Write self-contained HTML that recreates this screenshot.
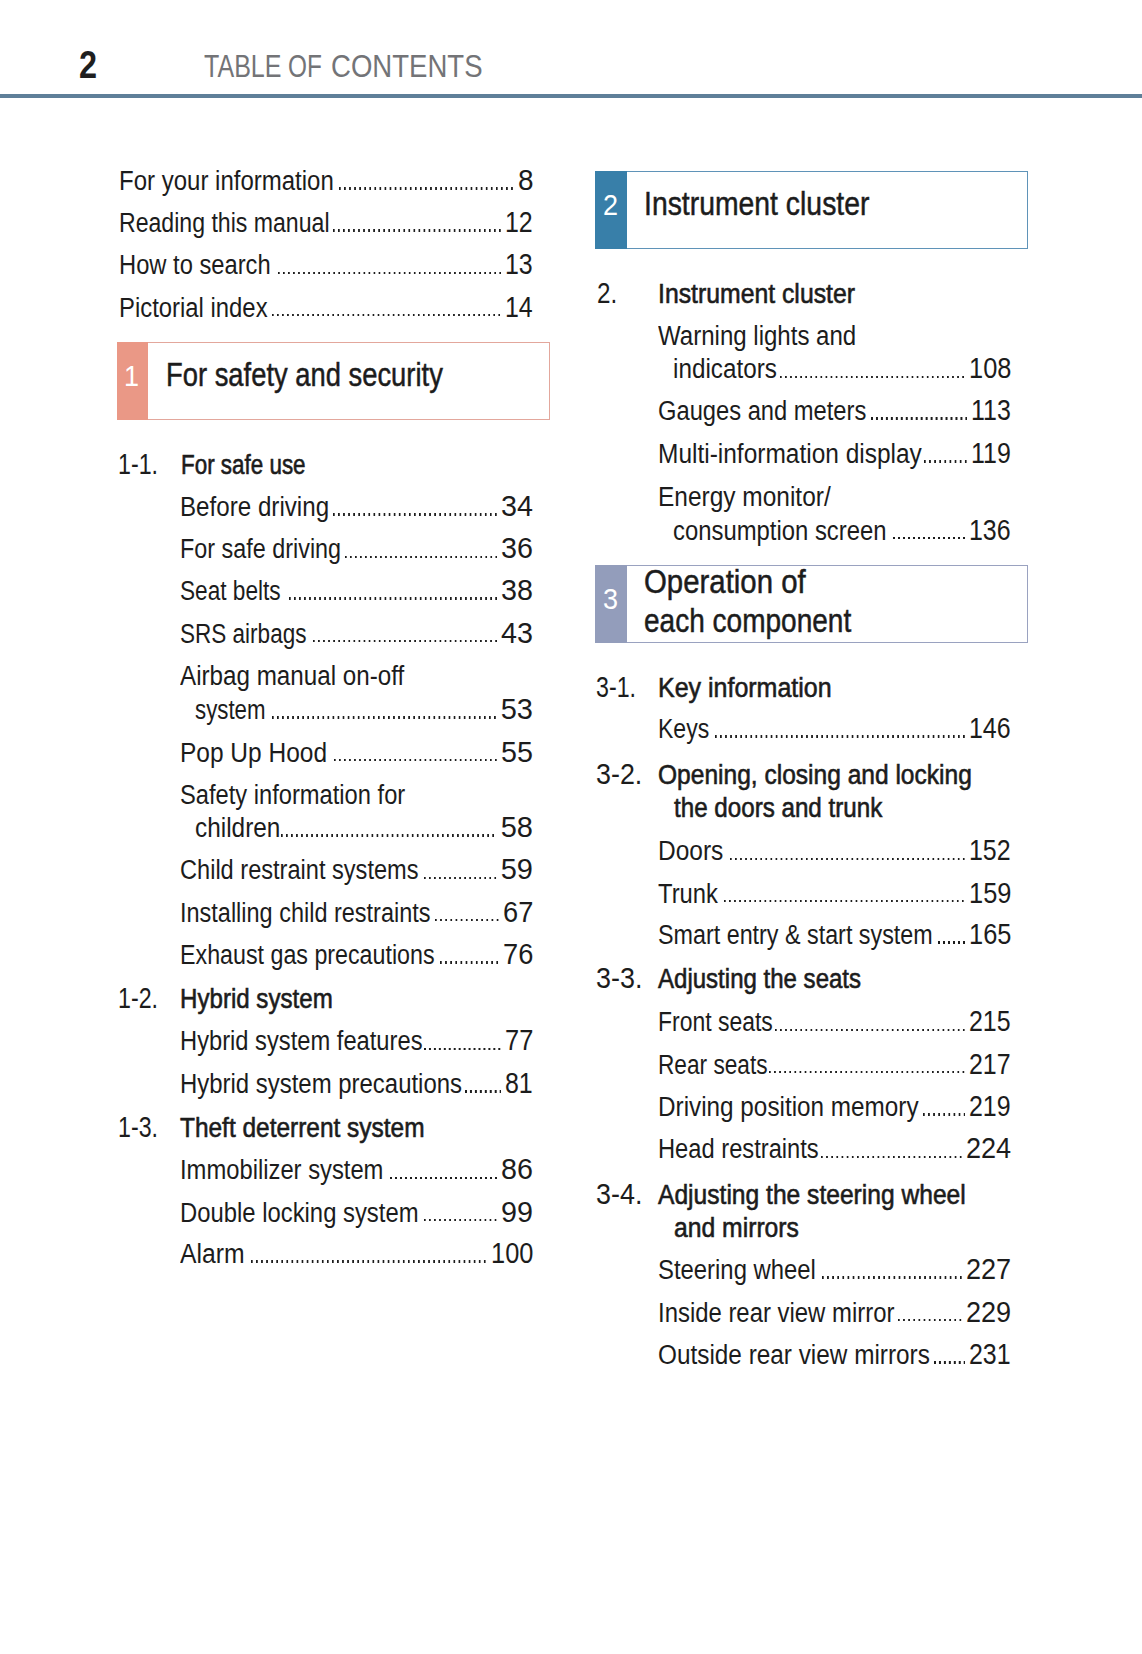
<!DOCTYPE html>
<html><head><meta charset="utf-8"><title>Table of contents</title>
<style>
html,body{margin:0;padding:0;background:#fff}
body{width:1142px;height:1654px;position:relative;overflow:hidden;font-family:"Liberation Sans",sans-serif;color:#1c1c1c}
.t{position:absolute;white-space:nowrap;transform-origin:0 0;line-height:40px}
.h{-webkit-text-stroke:0.6px #1c1c1c}
.bx{-webkit-text-stroke:0.5px #1c1c1c}
.d{position:absolute;height:2.6px;background-image:linear-gradient(to right,#1c1c1c 0,#1c1c1c 2px,transparent 2px);background-size:5.07px 2.6px;background-repeat:repeat-x;background-position:left 0 top 0}
.box{position:absolute;box-sizing:border-box;border:1px solid}
.blk{position:absolute}
.num{color:#fff}
.hdr2{font-weight:bold;color:#1f1f1f}
.hdrt{color:#737477}
.rule{position:absolute;left:0;top:93.5px;width:1142px;height:4px;background:#5f7f99}
</style></head><body>
<div class="rule"></div>
<div class="t" style="left:118.50px;top:161px;font-size:27px;transform:scaleX(0.8891);">For your information</div>
<div class="t" style="left:517.50px;top:160px;font-size:29px;transform:scaleX(0.9627);">8</div>
<div class="d" style="left:338.90px;top:187.2px;width:174.60px;background-size:5.076px 2.6px"></div>
<div class="t" style="left:118.50px;top:203px;font-size:27px;transform:scaleX(0.8553);">Reading this manual</div>
<div class="t" style="left:505.22px;top:202px;font-size:29px;transform:scaleX(0.8600);">12</div>
<div class="d" style="left:333.00px;top:229.2px;width:168.22px;background-size:5.037px 2.6px"></div>
<div class="t" style="left:118.50px;top:245px;font-size:27px;transform:scaleX(0.8789);">How to search</div>
<div class="t" style="left:505.22px;top:244px;font-size:29px;transform:scaleX(0.8600);">13</div>
<div class="d" style="left:277.60px;top:271.7px;width:223.62px;background-size:5.037px 2.6px"></div>
<div class="t" style="left:118.50px;top:288px;font-size:27px;transform:scaleX(0.8840);">Pictorial index</div>
<div class="t" style="left:505.22px;top:287px;font-size:29px;transform:scaleX(0.8600);">14</div>
<div class="d" style="left:272.30px;top:313.8px;width:228.92px;background-size:5.043px 2.6px"></div>
<div class="t" style="left:179.70px;top:487px;font-size:27px;transform:scaleX(0.8950);">Before driving</div>
<div class="t" style="left:501.00px;top:486px;font-size:29px;transform:scaleX(0.9907);">34</div>
<div class="d" style="left:332.80px;top:513.2px;width:164.20px;background-size:5.069px 2.6px"></div>
<div class="t" style="left:179.70px;top:529px;font-size:27px;transform:scaleX(0.8657);">For safe driving</div>
<div class="t" style="left:501.00px;top:528px;font-size:29px;transform:scaleX(0.9907);">36</div>
<div class="d" style="left:344.50px;top:555.7px;width:152.50px;background-size:5.017px 2.6px"></div>
<div class="t" style="left:179.70px;top:571px;font-size:27px;transform:scaleX(0.8385);">Seat belts</div>
<div class="t" style="left:501.00px;top:570px;font-size:29px;transform:scaleX(0.9907);">38</div>
<div class="d" style="left:288.50px;top:597.4px;width:208.50px;background-size:5.037px 2.6px"></div>
<div class="t" style="left:179.70px;top:614px;font-size:27px;transform:scaleX(0.8344);">SRS airbags</div>
<div class="t" style="left:501.00px;top:613px;font-size:29px;transform:scaleX(0.9907);">43</div>
<div class="d" style="left:312.60px;top:639.8px;width:184.40px;background-size:5.067px 2.6px"></div>
<div class="t" style="left:179.70px;top:656px;font-size:27px;transform:scaleX(0.8961);">Airbag manual on-off</div>
<div class="t" style="left:194.60px;top:690px;font-size:27px;transform:scaleX(0.8246);">system</div>
<div class="t" style="left:500.70px;top:689px;font-size:29px;transform:scaleX(1.0000);">53</div>
<div class="d" style="left:272.40px;top:716.2px;width:224.30px;background-size:5.052px 2.6px"></div>
<div class="t" style="left:179.70px;top:733px;font-size:27px;transform:scaleX(0.9068);">Pop Up Hood</div>
<div class="t" style="left:501.00px;top:732px;font-size:29px;transform:scaleX(0.9907);">55</div>
<div class="d" style="left:333.60px;top:758.9px;width:163.40px;background-size:5.044px 2.6px"></div>
<div class="t" style="left:179.70px;top:775px;font-size:27px;transform:scaleX(0.8776);">Safety information for</div>
<div class="t" style="left:194.60px;top:808px;font-size:27px;transform:scaleX(0.9027);">children</div>
<div class="t" style="left:500.70px;top:807px;font-size:29px;transform:scaleX(1.0000);">58</div>
<div class="d" style="left:281.20px;top:834.2px;width:213.50px;background-size:5.036px 2.6px"></div>
<div class="t" style="left:179.70px;top:850px;font-size:27px;transform:scaleX(0.8733);">Child restraint systems</div>
<div class="t" style="left:500.70px;top:849px;font-size:29px;transform:scaleX(1.0000);">59</div>
<div class="d" style="left:424.20px;top:876.5px;width:72.50px;background-size:5.036px 2.6px"></div>
<div class="t" style="left:179.70px;top:893px;font-size:27px;transform:scaleX(0.8695);">Installing child restraints</div>
<div class="t" style="left:502.70px;top:892px;font-size:29px;transform:scaleX(0.9381);">67</div>
<div class="d" style="left:435.00px;top:918.8px;width:63.70px;background-size:5.142px 2.6px"></div>
<div class="t" style="left:179.70px;top:935px;font-size:27px;transform:scaleX(0.8610);">Exhaust gas precautions</div>
<div class="t" style="left:502.70px;top:934px;font-size:29px;transform:scaleX(0.9381);">76</div>
<div class="d" style="left:440.30px;top:961.1px;width:58.40px;background-size:5.127px 2.6px"></div>
<div class="t" style="left:179.70px;top:1021px;font-size:27px;transform:scaleX(0.8783);">Hybrid system features</div>
<div class="t" style="left:504.70px;top:1020px;font-size:29px;transform:scaleX(0.8762);">77</div>
<div class="d" style="left:424.20px;top:1047.7px;width:76.50px;background-size:4.967px 2.6px"></div>
<div class="t" style="left:179.70px;top:1064px;font-size:27px;transform:scaleX(0.8865);">Hybrid system precautions</div>
<div class="t" style="left:505.22px;top:1063px;font-size:29px;transform:scaleX(0.8600);">81</div>
<div class="d" style="left:464.50px;top:1090.0px;width:36.72px;background-size:4.960px 2.6px"></div>
<div class="t" style="left:179.70px;top:1150px;font-size:27px;transform:scaleX(0.8805);">Immobilizer system</div>
<div class="t" style="left:501.00px;top:1149px;font-size:29px;transform:scaleX(0.9907);">86</div>
<div class="d" style="left:390.00px;top:1176.6px;width:107.00px;background-size:5.000px 2.6px"></div>
<div class="t" style="left:179.70px;top:1193px;font-size:27px;transform:scaleX(0.8830);">Double locking system</div>
<div class="t" style="left:501.00px;top:1192px;font-size:29px;transform:scaleX(0.9907);">99</div>
<div class="d" style="left:424.20px;top:1218.9px;width:72.80px;background-size:5.057px 2.6px"></div>
<div class="t" style="left:179.70px;top:1234px;font-size:27px;transform:scaleX(0.9149);">Alarm</div>
<div class="t" style="left:490.60px;top:1233px;font-size:29px;transform:scaleX(0.8760);">100</div>
<div class="d" style="left:251.00px;top:1260.4px;width:235.60px;background-size:5.078px 2.6px"></div>
<div class="t" style="left:657.70px;top:316px;font-size:27px;transform:scaleX(0.8904);">Warning lights and</div>
<div class="t" style="left:673.40px;top:349px;font-size:27px;transform:scaleX(0.8988);">indicators</div>
<div class="t" style="left:968.60px;top:348px;font-size:29px;transform:scaleX(0.8760);">108</div>
<div class="d" style="left:780.20px;top:375.6px;width:184.40px;background-size:5.067px 2.6px"></div>
<div class="t" style="left:657.70px;top:391px;font-size:27px;transform:scaleX(0.8785);">Gauges and meters</div>
<div class="t" style="left:971.27px;top:390px;font-size:29px;transform:scaleX(0.8600);">113</div>
<div class="d" style="left:870.80px;top:417.1px;width:96.47px;background-size:4.972px 2.6px"></div>
<div class="t" style="left:657.70px;top:434px;font-size:27px;transform:scaleX(0.9062);">Multi-information display</div>
<div class="t" style="left:971.27px;top:433px;font-size:29px;transform:scaleX(0.8600);">119</div>
<div class="d" style="left:924.30px;top:460.2px;width:42.97px;background-size:5.121px 2.6px"></div>
<div class="t" style="left:657.70px;top:477px;font-size:27px;transform:scaleX(0.9061);">Energy monitor/</div>
<div class="t" style="left:673.40px;top:511px;font-size:27px;transform:scaleX(0.8837);">consumption screen</div>
<div class="t" style="left:969.38px;top:510px;font-size:29px;transform:scaleX(0.8600);">136</div>
<div class="d" style="left:893.30px;top:536.7px;width:72.08px;background-size:5.005px 2.6px"></div>
<div class="t" style="left:657.70px;top:709px;font-size:27px;transform:scaleX(0.8533);">Keys</div>
<div class="t" style="left:969.38px;top:708px;font-size:29px;transform:scaleX(0.8600);">146</div>
<div class="d" style="left:714.90px;top:735.2px;width:250.48px;background-size:5.071px 2.6px"></div>
<div class="t" style="left:657.70px;top:831px;font-size:27px;transform:scaleX(0.9069);">Doors</div>
<div class="t" style="left:969.38px;top:830px;font-size:29px;transform:scaleX(0.8600);">152</div>
<div class="d" style="left:729.80px;top:857.5px;width:235.58px;background-size:5.078px 2.6px"></div>
<div class="t" style="left:657.70px;top:874px;font-size:27px;transform:scaleX(0.8811);">Trunk</div>
<div class="t" style="left:968.60px;top:873px;font-size:29px;transform:scaleX(0.8760);">159</div>
<div class="d" style="left:724.20px;top:899.8px;width:240.40px;background-size:5.072px 2.6px"></div>
<div class="t" style="left:657.70px;top:915px;font-size:27px;transform:scaleX(0.8636);">Smart entry &amp; start system</div>
<div class="t" style="left:968.60px;top:914px;font-size:29px;transform:scaleX(0.8760);">165</div>
<div class="d" style="left:937.60px;top:941.2px;width:27.00px;background-size:5.000px 2.6px"></div>
<div class="t" style="left:657.70px;top:1002px;font-size:27px;transform:scaleX(0.8497);">Front seats</div>
<div class="t" style="left:969.38px;top:1001px;font-size:29px;transform:scaleX(0.8600);">215</div>
<div class="d" style="left:775.30px;top:1028.6px;width:190.08px;background-size:5.083px 2.6px"></div>
<div class="t" style="left:657.70px;top:1045px;font-size:27px;transform:scaleX(0.8392);">Rear seats</div>
<div class="t" style="left:969.38px;top:1044px;font-size:29px;transform:scaleX(0.8600);">217</div>
<div class="d" style="left:769.30px;top:1070.9px;width:196.08px;background-size:5.107px 2.6px"></div>
<div class="t" style="left:657.70px;top:1087px;font-size:27px;transform:scaleX(0.8999);">Driving position memory</div>
<div class="t" style="left:969.38px;top:1086px;font-size:29px;transform:scaleX(0.8600);">219</div>
<div class="d" style="left:922.50px;top:1113.2px;width:42.88px;background-size:5.109px 2.6px"></div>
<div class="t" style="left:657.70px;top:1129px;font-size:27px;transform:scaleX(0.8777);">Head restraints</div>
<div class="t" style="left:965.80px;top:1128px;font-size:29px;transform:scaleX(0.9339);">224</div>
<div class="d" style="left:820.80px;top:1155.6px;width:141.00px;background-size:5.148px 2.6px"></div>
<div class="t" style="left:657.70px;top:1250px;font-size:27px;transform:scaleX(0.8841);">Steering wheel</div>
<div class="t" style="left:965.80px;top:1249px;font-size:29px;transform:scaleX(0.9339);">227</div>
<div class="d" style="left:821.60px;top:1276.4px;width:140.20px;background-size:5.119px 2.6px"></div>
<div class="t" style="left:657.70px;top:1293px;font-size:27px;transform:scaleX(0.8851);">Inside rear view mirror</div>
<div class="t" style="left:965.80px;top:1292px;font-size:29px;transform:scaleX(0.9339);">229</div>
<div class="d" style="left:898.20px;top:1318.7px;width:63.60px;background-size:5.133px 2.6px"></div>
<div class="t" style="left:657.70px;top:1335px;font-size:27px;transform:scaleX(0.9015);">Outside rear view mirrors</div>
<div class="t" style="left:969.38px;top:1334px;font-size:29px;transform:scaleX(0.8600);">231</div>
<div class="d" style="left:933.60px;top:1361.0px;width:31.78px;background-size:4.963px 2.6px"></div>
<div class="t" style="left:117.50px;top:444px;font-size:29px;transform:scaleX(0.8000);">1-1.</div>
<div class="t h" style="left:181.10px;top:445px;font-size:27px;transform:scaleX(0.8301);">For safe use</div>
<div class="t" style="left:118.00px;top:978px;font-size:29px;transform:scaleX(0.8000);">1-2.</div>
<div class="t h" style="left:180.30px;top:979px;font-size:27px;transform:scaleX(0.8930);">Hybrid system</div>
<div class="t" style="left:118.00px;top:1107px;font-size:29px;transform:scaleX(0.8000);">1-3.</div>
<div class="t h" style="left:180.30px;top:1108px;font-size:27px;transform:scaleX(0.9052);">Theft deterrent system</div>
<div class="t" style="left:596.60px;top:273px;font-size:29px;transform:scaleX(0.8347);">2.</div>
<div class="t h" style="left:658.30px;top:274px;font-size:27px;transform:scaleX(0.9180);">Instrument cluster</div>
<div class="t" style="left:596.10px;top:667px;font-size:29px;transform:scaleX(0.8000);">3-1.</div>
<div class="t h" style="left:658.30px;top:668px;font-size:27px;transform:scaleX(0.9254);">Key information</div>
<div class="t" style="left:596.10px;top:754px;font-size:29px;transform:scaleX(0.9260);">3-2.</div>
<div class="t h" style="left:658.30px;top:755px;font-size:27px;transform:scaleX(0.9090);">Opening, closing and locking</div>
<div class="t h" style="left:674.00px;top:788px;font-size:27px;transform:scaleX(0.8951);">the doors and trunk</div>
<div class="t" style="left:596.00px;top:958px;font-size:29px;transform:scaleX(0.9280);">3-3.</div>
<div class="t h" style="left:658.30px;top:959px;font-size:27px;transform:scaleX(0.8900);">Adjusting the seats</div>
<div class="t" style="left:596.00px;top:1174px;font-size:29px;transform:scaleX(0.9280);">3-4.</div>
<div class="t h" style="left:658.30px;top:1175px;font-size:27px;transform:scaleX(0.9112);">Adjusting the steering wheel</div>
<div class="t h" style="left:674.00px;top:1208px;font-size:27px;transform:scaleX(0.9150);">and mirrors</div>
<div class="box" style="left:117px;top:342px;width:433px;height:78px;border-color:#e3a79c"></div>
<div class="blk" style="left:117px;top:342px;width:31px;height:78px;background:#ea9886"></div>
<div class="t num" style="left:124.43px;top:356px;font-size:30px;transform:scaleX(0.9000);">1</div>
<div class="t bx" style="left:165.70px;top:354px;font-size:34px;transform:scaleX(0.8049);">For safety and security</div>
<div class="box" style="left:595px;top:171px;width:433px;height:78px;border-color:#5f93b8"></div>
<div class="blk" style="left:595px;top:171px;width:32px;height:78px;background:#387fa9"></div>
<div class="t num" style="left:603.28px;top:185px;font-size:30px;transform:scaleX(0.9000);">2</div>
<div class="t bx" style="left:644.10px;top:183px;font-size:34px;transform:scaleX(0.8342);">Instrument cluster</div>
<div class="box" style="left:595px;top:565px;width:433px;height:78px;border-color:#9aa2c0"></div>
<div class="blk" style="left:595px;top:565px;width:32px;height:78px;background:#939dbb"></div>
<div class="t num" style="left:603.44px;top:579px;font-size:30px;transform:scaleX(0.9000);">3</div>
<div class="t bx" style="left:644.10px;top:561px;font-size:34px;transform:scaleX(0.8638);">Operation of</div>
<div class="t bx" style="left:644.10px;top:600px;font-size:34px;transform:scaleX(0.8242);">each component</div>
<div class="t hdr2" style="left:79.00px;top:45px;font-size:38px;transform:scaleX(0.8531);">2</div>
<div class="t hdrt" style="left:204.20px;top:47px;font-size:31px;transform:scaleX(0.8081);">TABLE</div>
<div class="t hdrt" style="left:287.80px;top:47px;font-size:31px;transform:scaleX(0.7860);">OF</div>
<div class="t hdrt" style="left:331.00px;top:47px;font-size:31px;transform:scaleX(0.8891);">CONTENTS</div>
</body></html>
